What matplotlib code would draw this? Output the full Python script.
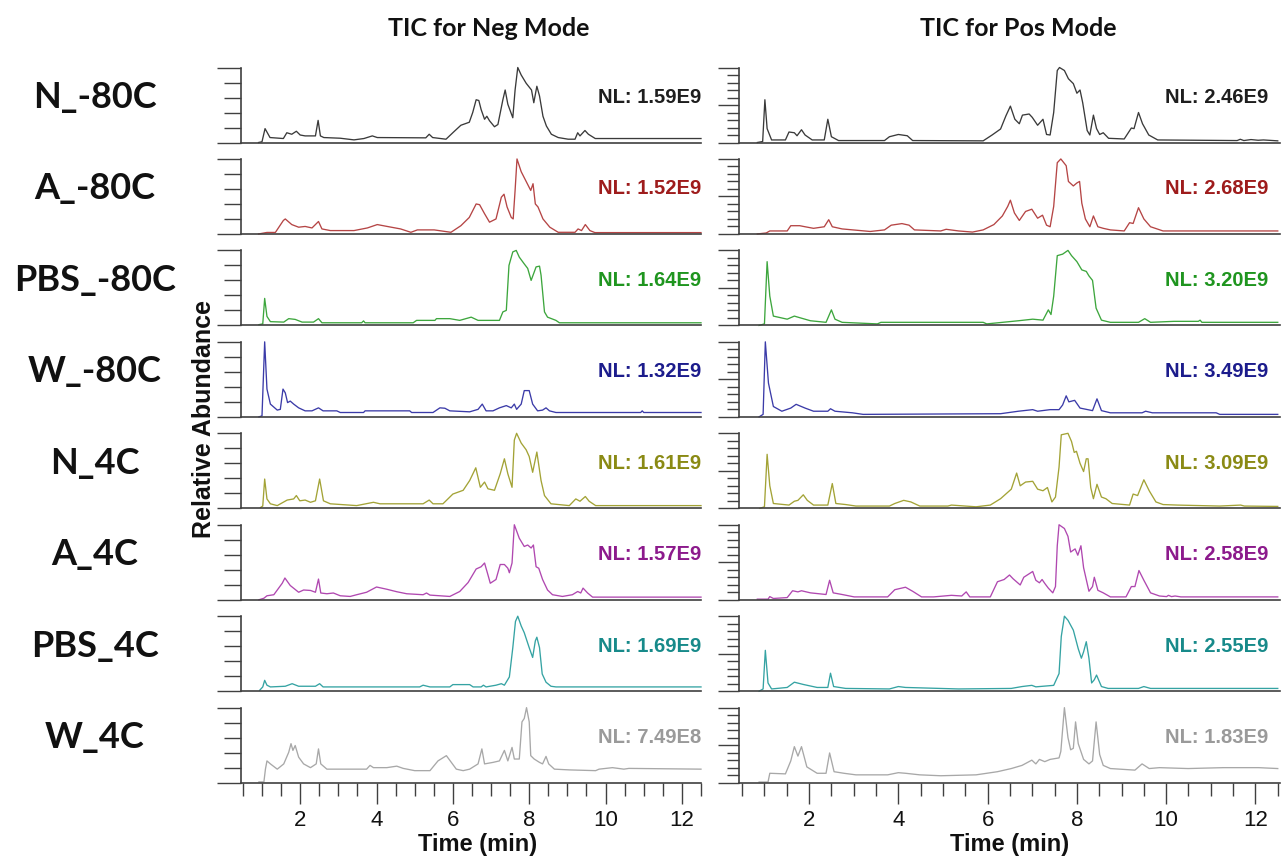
import matplotlib
matplotlib.use("Agg")
import matplotlib.pyplot as plt
from matplotlib.ticker import MultipleLocator, FixedLocator

# sample names and normalisation levels
rows = ["N_-80C", "A_-80C", "PBS_-80C", "W_-80C", "N_4C", "A_4C", "PBS_4C", "W_4C"]
neg_nl = ["1.59E9", "1.52E9", "1.64E9", "1.32E9", "1.61E9", "1.57E9", "1.69E9", "7.49E8"]
pos_nl = ["2.46E9", "2.68E9", "3.20E9", "3.49E9", "3.09E9", "2.58E9", "2.55E9", "1.83E9"]

# TIC traces, (time in min, relative abundance %)
neg_n80 = [(0.91, 0), (1.0, 1), (1.08, 18.5), (1.21, 6.6), (1.56, 5.3), (1.65, 13), (1.78, 11), (1.90, 15), (2.0, 10),
           (2.13, 8.8), (2.40, 8.8), (2.47, 29.5), (2.53, 8.8), (2.62, 6.6), (3.05, 5.7), (3.41, 3.5), (3.67, 5.3),
           (3.89, 8.8), (4.02, 6.6), (5.29, 6.2), (5.38, 11), (5.47, 6.6), (5.82, 4.4), (6.04, 15), (6.21, 23),
           (6.43, 27), (6.52, 40), (6.61, 57), (6.68, 56), (6.74, 44), (6.83, 31), (6.89, 35), (6.96, 29), (7.09, 21),
           (7.18, 24), (7.31, 57), (7.37, 70), (7.44, 51), (7.57, 33), (7.63, 70), (7.70, 100), (7.79, 90), (7.92, 79),
           (8.06, 70), (8.12, 53), (8.20, 75), (8.27, 62), (8.36, 35), (8.45, 22), (8.58, 11), (8.76, 6.6), (9.02, 4.4),
           (9.20, 4.4), (9.27, 13), (9.33, 8.8), (9.46, 16), (9.55, 11), (9.73, 5.3), (12.5, 5.3)]
neg_a80 = [(0.91, 0), (1.13, 2), (1.35, 2), (1.56, 18), (1.61, 20), (1.78, 12.5), (1.96, 9), (2.13, 10), (2.31, 8),
           (2.48, 16.6), (2.57, 6.7), (2.79, 4.5), (3.41, 4.5), (3.76, 8), (4.02, 12.5), (4.28, 10), (4.63, 6.7),
           (4.90, 2.2), (5.07, 5.4), (5.51, 5.4), (5.95, 2.2), (6.21, 11), (6.43, 22), (6.61, 40), (6.70, 39),
           (6.83, 27), (6.96, 15.7), (7.13, 20), (7.27, 49), (7.34, 53), (7.42, 36), (7.53, 22), (7.58, 20), (7.63, 58),
           (7.68, 100), (7.79, 83), (7.92, 70), (8.04, 58), (8.10, 67), (8.16, 40), (8.23, 36), (8.36, 20), (8.54, 9),
           (8.76, 2.2), (9.20, 2.2), (9.28, 6.7), (9.37, 4.5), (9.47, 12.5), (9.59, 4.5), (9.72, 1.8), (12.5, 1.8)]
neg_pbs80 = [(0.92, 1), (1.02, 2), (1.07, 36), (1.13, 12), (1.22, 5), (1.57, 4.4), (1.70, 9), (1.87, 8), (2.05, 4.4),
             (2.35, 4.4), (2.48, 9), (2.57, 3.5), (3.61, 3.5), (3.66, 6), (3.70, 3.5), (4.96, 3.5), (5.05, 6.7),
             (5.53, 6.7), (5.57, 9), (5.92, 9), (6.18, 6.7), (6.48, 11), (6.66, 6.7), (7.22, 6.7), (7.31, 18),
             (7.40, 20), (7.47, 80), (7.57, 98), (7.66, 100), (7.74, 91), (7.87, 82), (7.96, 76), (8.05, 60),
             (8.13, 71), (8.18, 78), (8.27, 79), (8.31, 67), (8.40, 18), (8.48, 11), (8.70, 6.7), (8.79, 3.5),
             (12.5, 3.5)]
neg_w80 = [(0.92, 0), (1.0, 1.3), (1.07, 100), (1.13, 37), (1.22, 17), (1.40, 9), (1.48, 10), (1.55, 37), (1.61, 32),
           (1.67, 19), (1.74, 21), (1.83, 17), (1.96, 12), (2.13, 8), (2.31, 8), (2.48, 12), (2.60, 8), (2.96, 8),
           (3.05, 5.8), (3.66, 5.8), (3.70, 8), (4.87, 8), (4.92, 5.8), (5.48, 5.8), (5.66, 12), (5.79, 11.5),
           (5.92, 8), (6.44, 6.7), (6.66, 10), (6.77, 17), (6.87, 8), (7.05, 8), (7.22, 12), (7.40, 15), (7.53, 12),
           (7.61, 17), (7.67, 10), (7.79, 17), (7.87, 35), (8.00, 35), (8.09, 17), (8.22, 8), (8.35, 9), (8.44, 12),
           (8.53, 8), (8.70, 5.8), (10.92, 5.8), (10.96, 8), (11.0, 5.8), (12.5, 5.8)]
neg_n4 = [(0.96, 1), (1.02, 3), (1.07, 39), (1.13, 12.5), (1.22, 6), (1.40, 3.6), (1.66, 11), (1.83, 12.5), (1.90, 17),
          (1.99, 10), (2.13, 11), (2.27, 8), (2.40, 10), (2.51, 39), (2.61, 10), (2.79, 6), (3.48, 3.6), (3.92, 8),
          (4.09, 6), (5.22, 6), (5.38, 11), (5.48, 6), (5.74, 6), (6.0, 19), (6.27, 24), (6.44, 37), (6.60, 54),
          (6.72, 28), (6.83, 35), (6.92, 26), (7.09, 24), (7.24, 46), (7.35, 66), (7.44, 46), (7.55, 28), (7.61, 91),
          (7.67, 100), (7.79, 87), (7.92, 78), (8.0, 69), (8.09, 48), (8.20, 75), (8.31, 37), (8.40, 17), (8.57, 6),
          (9.05, 3.6), (9.22, 12.5), (9.33, 9.4), (9.47, 15.7), (9.57, 9.4), (9.74, 3.6), (12.5, 3.6)]
neg_a4 = [(0.92, 0), (1.05, 2), (1.13, 5.3), (1.31, 6.7), (1.53, 22), (1.60, 29), (1.74, 19), (1.96, 10), (2.09, 13),
          (2.27, 12.4), (2.40, 10), (2.48, 27.6), (2.54, 9), (2.70, 8), (2.87, 9), (3.05, 5.3), (3.31, 4.4),
          (3.48, 6.7), (3.74, 10), (4.0, 17), (4.27, 14), (4.53, 10.7), (4.79, 8), (5.22, 6.7), (5.31, 9), (5.40, 6.2),
          (5.92, 4.4), (6.18, 11), (6.40, 23), (6.61, 41), (6.74, 44), (6.83, 49), (6.92, 33), (6.98, 22), (7.13, 27),
          (7.24, 47), (7.35, 47), (7.44, 42), (7.48, 36), (7.55, 49), (7.61, 100), (7.74, 82), (7.87, 71), (7.96, 73),
          (8.05, 69), (8.11, 73), (8.18, 44), (8.25, 42), (8.35, 27), (8.48, 13), (8.61, 6.7), (8.87, 4.4),
          (9.13, 6.7), (9.27, 11), (9.35, 9), (9.41, 15.5), (9.53, 9), (9.66, 3.5), (12.5, 3.5)]
neg_pbs4 = [(0.94, 1.3), (1.02, 5.7), (1.07, 14.5), (1.13, 8), (1.22, 5.7), (1.61, 6.6), (1.79, 10), (1.96, 6.6),
            (2.40, 6.6), (2.51, 10), (2.60, 5.7), (5.13, 5.7), (5.22, 8), (5.40, 5.7), (5.92, 5.7), (6.0, 8.8),
            (6.44, 8.8), (6.53, 5.7), (6.74, 5.7), (6.80, 8), (6.87, 5.7), (7.13, 8), (7.27, 10), (7.35, 8),
            (7.48, 19), (7.57, 58), (7.64, 93), (7.70, 100), (7.79, 87), (7.87, 78), (8.0, 58), (8.09, 45), (8.16, 67),
            (8.20, 72), (8.27, 58), (8.34, 23), (8.44, 12), (8.57, 6.6), (8.70, 5.7), (12.5, 5.7)]
neg_w4 = [(0.92, 1), (1.05, 1), (1.09, 18), (1.13, 29), (1.22, 25), (1.40, 18), (1.57, 25), (1.70, 40.5), (1.76, 52),
          (1.81, 43), (1.87, 49.5), (1.96, 34), (2.09, 25), (2.27, 20), (2.42, 25), (2.48, 45), (2.54, 25), (2.70, 18),
          (3.74, 18), (3.83, 23), (3.92, 20), (4.27, 20), (4.53, 22), (4.70, 19), (5.0, 16), (5.40, 16), (5.61, 29),
          (5.83, 36), (5.96, 27), (6.09, 18), (6.27, 16), (6.44, 18), (6.66, 25), (6.76, 45), (6.83, 25), (7.05, 27),
          (7.22, 29), (7.35, 43), (7.44, 29), (7.55, 47), (7.61, 31.5), (7.74, 31.5), (7.81, 81), (7.87, 85.6),
          (7.93, 100), (8.0, 81), (8.04, 36), (8.13, 31.5), (8.27, 27), (8.35, 25), (8.44, 35), (8.51, 25),
          (8.66, 18), (9.05, 17), (9.74, 16), (9.83, 18), (10.18, 20), (10.48, 18), (10.61, 19), (12.5, 18)]

pos_n80 = [(0.84, 0), (0.96, 1.3), (1.01, 57), (1.06, 18.5), (1.16, 3.4), (1.47, 3.4), (1.55, 14), (1.67, 13),
           (1.73, 9), (1.83, 17), (1.91, 10), (2.07, 3.4), (2.34, 3.4), (2.42, 31), (2.50, 7.7), (2.66, 2.6),
           (3.69, 2.6), (3.80, 7.7), (4.0, 10.7), (4.20, 9), (4.32, 2.6), (5.90, 2.2), (6.10, 10), (6.29, 18),
           (6.41, 35.6), (6.51, 48.5), (6.61, 31), (6.71, 25), (6.78, 36.5), (6.93, 38), (7.0, 33.5), (7.12, 23),
           (7.24, 31), (7.32, 10.7), (7.40, 10), (7.48, 40), (7.56, 96), (7.61, 100), (7.72, 96), (7.81, 85),
           (7.92, 78.5), (8.0, 65.7), (8.07, 70), (8.13, 53), (8.23, 16), (8.29, 10), (8.37, 36.5), (8.44, 18.5),
           (8.51, 10.7), (8.59, 13), (8.71, 5.6), (9.06, 4.7), (9.14, 12), (9.22, 19.3), (9.28, 18.5), (9.38, 40),
           (9.47, 25), (9.61, 10), (9.81, 3.4), (11.59, 2.6), (11.66, 4.3), (11.74, 2.6), (11.90, 3.9), (12.06, 3.0),
           (12.18, 3.4), (12.5, 2.2)]
pos_a80 = [(0.84, 0), (1.04, 1.3), (1.12, 4), (1.51, 4), (1.59, 11), (1.79, 11), (1.91, 9.6), (2.10, 7.5), (2.34, 9.6),
           (2.44, 19), (2.52, 9.6), (2.74, 6.7), (3.37, 3.3), (3.69, 5.4), (3.84, 11.7), (4.08, 13.8), (4.24, 11.7),
           (4.36, 5.4), (4.95, 4), (5.07, 6.2), (5.35, 4), (5.66, 2.5), (5.90, 5.4), (6.14, 12.5), (6.33, 24),
           (6.45, 36.7), (6.51, 45), (6.60, 28), (6.71, 18), (6.85, 30), (6.99, 33), (7.12, 21), (7.23, 25),
           (7.32, 11.7), (7.40, 9.6), (7.48, 36.7), (7.56, 95), (7.64, 100), (7.76, 91), (7.81, 70), (7.92, 64),
           (8.0, 68), (8.06, 70), (8.11, 41), (8.19, 20), (8.29, 9.6), (8.37, 24), (8.47, 9.6), (8.59, 7.5),
           (8.75, 5.4), (9.06, 4), (9.18, 15), (9.26, 14), (9.38, 35), (9.50, 20), (9.65, 9.6), (9.93, 4), (12.5, 4)]
pos_pbs80 = [(0.88, 0), (1.0, 2), (1.06, 85), (1.12, 39), (1.20, 12.4), (1.51, 8.3), (1.67, 12.4), (1.79, 10.3),
             (2.03, 6.2), (2.38, 4.1), (2.50, 20.7), (2.58, 8.3), (2.74, 4.1), (3.53, 2), (3.61, 4.1), (5.90, 4.1),
             (5.98, 2), (6.69, 6.2), (7.01, 8.3), (7.24, 7), (7.36, 20.7), (7.42, 14.5), (7.48, 39), (7.56, 93),
             (7.68, 95), (7.80, 100), (7.88, 93), (8.0, 85), (8.11, 74), (8.21, 72), (8.27, 66), (8.35, 60),
             (8.43, 23), (8.55, 7), (8.75, 4.1), (9.38, 4.1), (9.52, 9), (9.65, 4.1), (10.17, 5.4), (10.72, 5.4),
             (10.76, 7), (10.80, 4.1), (12.5, 4.1)]
pos_w80 = [(0.88, 0), (0.97, 3.3), (1.02, 100), (1.09, 45), (1.20, 13.8), (1.39, 7.5), (1.59, 11.7), (1.71, 16.7),
           (1.91, 11.7), (2.10, 7.5), (2.42, 7.5), (2.48, 10.8), (2.58, 7.5), (2.97, 5.4), (3.21, 3.3), (6.29, 4.2),
           (6.69, 7.5), (7.01, 9.6), (7.12, 7.5), (7.40, 9.6), (7.60, 9.6), (7.68, 15.8), (7.76, 28), (7.82, 20),
           (7.95, 22), (8.07, 11.7), (8.35, 8.3), (8.45, 24), (8.55, 8.3), (8.75, 5.4), (9.46, 5.4), (9.54, 7.5),
           (9.69, 5.4), (11.12, 5.4), (11.2, 3.3), (12.5, 3.3)]
pos_n4 = [(0.90, 0), (1.0, 2), (1.06, 72), (1.12, 30), (1.20, 6.4), (1.55, 4.3), (1.67, 9.4), (1.75, 10.6), (1.87, 18),
          (1.96, 10.6), (2.10, 4.3), (2.42, 4.3), (2.52, 33), (2.60, 6.4), (2.82, 5), (3.05, 3), (3.80, 3),
          (3.92, 6.4), (4.12, 10.6), (4.28, 8.5), (4.48, 3), (5.11, 3), (5.19, 4.3), (5.74, 2), (6.06, 4.3),
          (6.29, 12.8), (6.53, 25.5), (6.65, 47), (6.73, 30), (6.85, 35), (7.01, 36), (7.12, 25.5), (7.24, 23.4),
          (7.34, 27.7), (7.44, 8.5), (7.52, 15), (7.60, 55), (7.65, 98), (7.80, 100), (7.88, 89), (7.94, 74.5),
          (7.99, 76), (8.07, 60), (8.15, 49), (8.21, 66), (8.25, 66), (8.31, 27.7), (8.37, 12.8), (8.45, 32),
          (8.55, 15), (8.65, 12.8), (8.79, 6.4), (9.18, 4.3), (9.26, 19), (9.36, 17), (9.50, 38), (9.62, 23.4),
          (9.77, 8.5), (9.93, 5), (10.25, 4.3), (11.20, 3), (11.67, 4.3), (11.75, 3), (12.5, 2.5)]
pos_a4 = [(0.84, 0.8), (1.08, 0.8), (1.12, 4.2), (1.20, 1.7), (1.51, 2.9), (1.63, 12), (1.75, 10.5), (1.83, 12),
          (2.03, 9.2), (2.38, 7), (2.46, 26), (2.54, 9.2), (2.74, 7), (3.01, 3.8), (3.76, 3.8), (3.92, 13.4),
          (4.16, 16.7), (4.32, 11.3), (4.52, 3.8), (4.79, 3.8), (5.19, 5.9), (5.42, 5), (5.52, 10.5), (5.60, 3.8),
          (6.06, 3.8), (6.22, 24), (6.37, 27), (6.49, 33), (6.57, 28), (6.73, 19.7), (6.81, 30), (7.01, 37.7),
          (7.08, 26), (7.16, 22.6), (7.22, 27), (7.28, 21.8), (7.36, 15.5), (7.46, 9.2), (7.52, 17.6), (7.56, 72),
          (7.60, 100), (7.72, 95), (7.80, 84.5), (7.86, 63.6), (7.96, 67.8), (8.02, 59.4), (8.09, 72), (8.15, 42.7),
          (8.27, 11.3), (8.35, 17.6), (8.39, 30), (8.47, 12.6), (8.59, 9.2), (8.75, 3.8), (9.10, 3.8), (9.22, 17.6),
          (9.30, 17.6), (9.39, 39), (9.50, 26), (9.65, 9.2), (9.85, 5), (10.01, 4.2), (10.05, 5.9), (10.12, 4.2),
          (10.20, 5), (10.33, 3.8), (12.5, 3.8)]
pos_pbs4 = [(0.88, 0), (0.97, 3), (1.02, 54.5), (1.08, 11), (1.16, 3), (1.51, 5), (1.67, 12), (1.87, 9), (2.18, 5),
            (2.42, 5), (2.48, 24), (2.55, 6.2), (2.82, 3.7), (3.80, 3), (4.0, 6.2), (4.16, 5), (5.35, 3), (6.53, 3.7),
            (6.77, 6.2), (6.99, 7.8), (7.08, 5.8), (7.48, 7.8), (7.60, 23.5), (7.65, 73), (7.72, 100), (7.80, 94.6),
            (7.92, 81.4), (8.03, 56.6), (8.10, 44), (8.15, 52.5), (8.21, 66), (8.27, 44), (8.33, 11), (8.39, 15.3),
            (8.44, 21.5), (8.55, 6.2), (8.70, 3.7), (9.38, 3.7), (9.50, 6.2), (9.65, 3.7), (12.5, 3.7)]
pos_w4 = [(0.88, 0.8), (1.08, 0.8), (1.12, 12.5), (1.47, 11.7), (1.59, 29), (1.67, 48), (1.75, 35.4), (1.83, 48),
          (1.95, 21), (2.18, 12.5), (2.38, 12.5), (2.46, 39.6), (2.56, 14.6), (2.78, 12.5), (3.05, 10.4), (3.76, 10.4),
          (4.0, 13.3), (4.16, 12.5), (4.48, 10.4), (4.95, 9.2), (5.74, 10.4), (6.22, 14.6), (6.53, 18.8), (6.77, 23),
          (6.99, 30), (7.08, 25), (7.16, 31), (7.28, 28), (7.40, 31), (7.60, 33), (7.64, 41.7), (7.72, 100),
          (7.80, 60), (7.86, 43.8), (7.92, 45.8), (7.97, 81), (8.03, 52), (8.15, 31), (8.27, 25), (8.35, 29),
          (8.43, 81), (8.51, 37.5), (8.59, 23), (8.75, 18.8), (9.30, 16.7), (9.46, 25), (9.62, 18.8), (9.85, 20),
          (10.49, 18.8), (11.28, 20), (12.07, 20), (12.5, 18.8)]

neg_traces = [neg_n80, neg_a80, neg_pbs80, neg_w80, neg_n4, neg_a4, neg_pbs4, neg_w4]
pos_traces = [pos_n80, pos_a80, pos_pbs80, pos_w80, pos_n4, pos_a4, pos_pbs4, pos_w4]

line_colors = ["#3a3a3a", "#b54545", "#3da63d", "#3b3ba8", "#a3a336", "#b048b0", "#35a3a3", "#a8a8a8"]
text_colors = ["#1e1e1e", "#9e1c1c", "#1f951f", "#1c1c8c", "#8a8a14", "#8c1a8c", "#178a8a", "#9a9a9a"]

W, H = 1282, 859
fig = plt.figure(figsize=(W / 100, H / 100), dpi=100)
axc = "#404040"


def add_ax(x0, top, w, h):
    return fig.add_axes([x0 / W, 1 - (top + h) / H, w / W, h / H])


def style_ax(ax, xlim, ymajor, yminor, long_len, short_len, last):
    ax.set_xlim(*xlim)
    ax.set_ylim(0, 100)
    for s in ["top", "right"]:
        ax.spines[s].set_visible(False)
    for s in ["left", "bottom"]:
        ax.spines[s].set_color(axc)
        ax.spines[s].set_linewidth(1.2)
    ax.yaxis.set_major_locator(FixedLocator(ymajor))
    ax.yaxis.set_minor_locator(MultipleLocator(yminor))
    ax.tick_params(axis="y", which="major", length=long_len, width=1.0, color=axc, labelleft=False)
    ax.tick_params(axis="y", which="minor", length=short_len, width=1.0, color=axc)
    if last:
        ax.xaxis.set_major_locator(MultipleLocator(2))
        ax.xaxis.set_minor_locator(MultipleLocator(0.5))
        ax.tick_params(axis="x", which="major", length=15, width=1.0, color=axc, pad=5,
                       labelsize=16, labelcolor="#111111")
        ax.tick_params(axis="x", which="minor", length=9, width=1.0, color=axc)
        for lab in ax.get_xticklabels():
            lab.set_family("Liberation Sans")
    else:
        ax.tick_params(axis="x", which="both", bottom=False, labelbottom=False)


for i, name in enumerate(rows):
    top = 67.5 + 91.45 * i
    h = 75
    last = i == len(rows) - 1

    ax = add_ax(241, top, 460, h)
    t, y = zip(*neg_traces[i])
    ax.plot(t, y, color=line_colors[i], lw=0.95, clip_on=False)
    style_ax(ax, (0.45, 12.5), [0, 100], 20, 17, 12, last)
    ax.text(1.0, 0.6, "NL: " + neg_nl[i], transform=ax.transAxes, ha="right", va="center",
            fontsize=14.5, fontweight="bold", family="Liberation Sans", color=text_colors[i])

    ax = add_ax(739, top, 541, h)
    t, y = zip(*pos_traces[i])
    ax.plot(t, y, color=line_colors[i], lw=0.95, clip_on=False)
    style_ax(ax, (0.43, 12.55), [0, 50, 100], 10, 15, 9, last)
    ax.text(0.978, 0.6, "NL: " + pos_nl[i], transform=ax.transAxes, ha="right", va="center",
            fontsize=14.5, fontweight="bold", family="Liberation Sans", color=text_colors[i])

    fig.text(95 / W, 1 - (top + 30) / H, name, ha="center", va="center",
             fontsize=26, fontweight="bold", family="Lato", color="#111111")

fig.text(489 / W, 1 - 28 / H, "TIC for Neg Mode", ha="center", va="center",
         fontsize=18, fontweight="bold", family="Lato", color="#111111")
fig.text(1018 / W, 1 - 28 / H, "TIC for Pos Mode", ha="center", va="center",
         fontsize=18, fontweight="bold", family="Lato", color="#111111")
fig.text(204 / W, 1 - 419 / H, "Relative Abundance", rotation=90, ha="center", va="center",
         fontsize=18, fontweight="bold", family="Liberation Sans", color="#111111")
fig.text(478 / W, 1 - 845 / H, "Time (min)", ha="center", va="center",
         fontsize=17, fontweight="bold", family="Liberation Sans", color="#111111")
fig.text(1010 / W, 1 - 845 / H, "Time (min)", ha="center", va="center",
         fontsize=17, fontweight="bold", family="Liberation Sans", color="#111111")

fig.savefig("out.png", dpi=100, facecolor="white")
